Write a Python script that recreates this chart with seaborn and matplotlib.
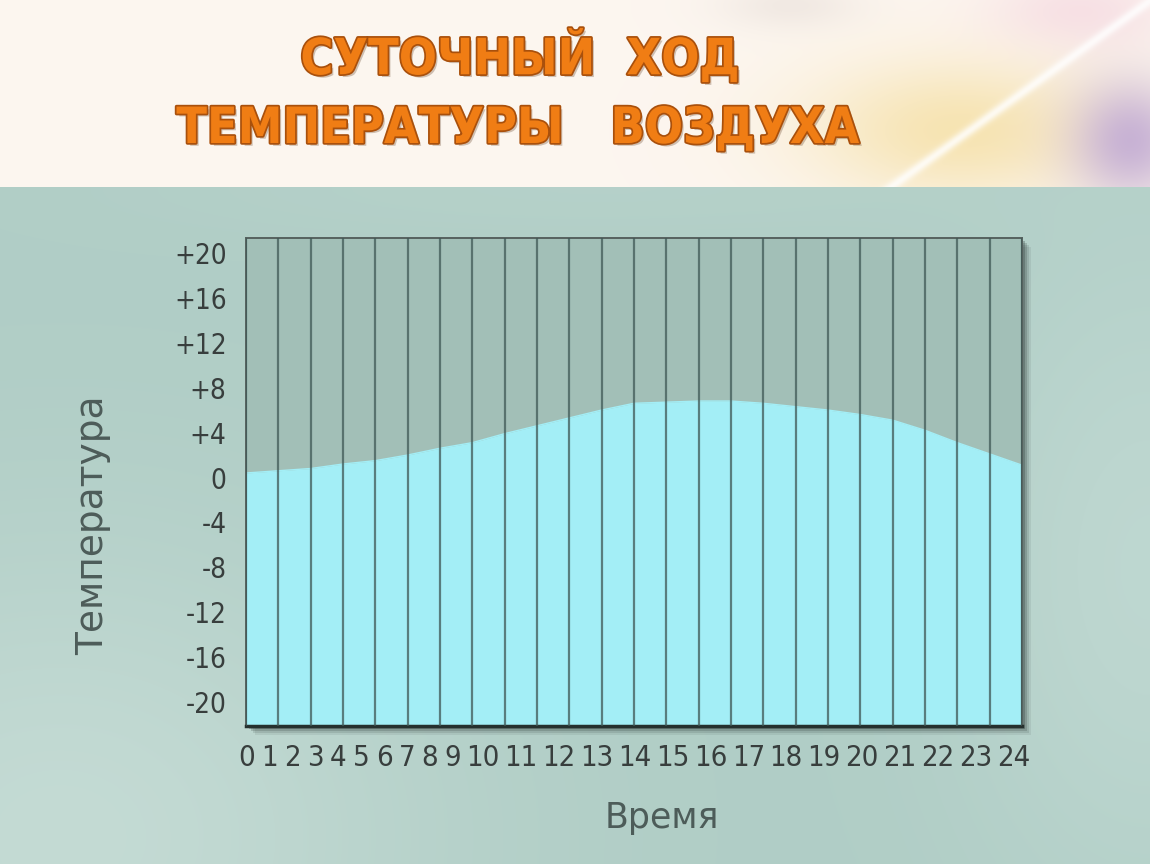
import matplotlib
matplotlib.use('Agg')
import matplotlib.pyplot as plt
import matplotlib.patheffects as pe
from matplotlib.patches import Rectangle
import numpy as np
import pandas as pd
import seaborn as sns

# daily course of air temperature
hours = list(range(0, 25))
temperature = [0.4, 0.6, 0.8, 1.2, 1.5, 2.0, 2.6, 3.1, 3.9, 4.6, 5.3, 6.0, 6.6,
               6.7, 6.8, 6.8, 6.6, 6.3, 6.0, 5.6, 5.1, 4.2, 3.1, 2.1, 1.1]
y_ticks = [-20, -16, -12, -8, -4, 0, 4, 8, 12, 16, 20]
y_tick_labels = ['-20', '-16', '-12', '-8', '-4', '0', '+4', '+8', '+12', '+16', '+20']
x_tick_labels = [str(h) for h in hours]
title_lines = ['СУТОЧНЫЙ  ХОД', 'ТЕМПЕРАТУРЫ   ВОЗДУХА']

sns.set_theme(style='white')
plt.rcParams['font.family'] = ['DejaVu Sans']
plt.rcParams['font.stretch'] = 'condensed'

W, H = 1150, 864
BANNER = 187
fig = plt.figure(figsize=(W / 100, H / 100), dpi=100)


def blend(img, xx, yy, cx, cy, sx, sy, color, strength):
    g = np.exp(-((xx - cx) / sx) ** 2 - ((yy - cy) / sy) ** 2)[..., None] * strength
    return img * (1 - g) + np.array(color) * g


# banner background (soft light streaks)
yy, xx = np.mgrid[0:BANNER, 0:W].astype(float)
top = np.ones((BANNER, W, 3)) * np.array([0.99, 0.965, 0.94])
top = blend(top, xx, yy, 960, 130, 150, 70, (0.96, 0.87, 0.62), 0.75)
top = blend(top, xx, yy, 1130, 140, 60, 60, (0.72, 0.62, 0.82), 0.75)
top = blend(top, xx, yy, 1080, 10, 90, 40, (0.95, 0.80, 0.86), 0.5)
top = blend(top, xx, yy, 790, 5, 70, 25, (0.88, 0.84, 0.82), 0.4)
d = np.abs(187 * (xx - 1150) + 260 * yy) / np.hypot(187, 260)
top = top * (1 - np.exp(-(d / 5) ** 2)[..., None] * 0.8) + np.exp(-(d / 5) ** 2)[..., None] * 0.8
top = np.clip(top, 0, 1)

ax_top = fig.add_axes([0, 1 - BANNER / H, 1, BANNER / H], zorder=-3)
ax_top.imshow(top, aspect='auto')
ax_top.axis('off')

# lower background
yy, xx = np.mgrid[0:H - BANNER, 0:W].astype(float)
low = np.ones((H - BANNER, W, 3)) * np.array([0.69, 0.805, 0.775])
low = blend(low, xx, yy, 60, 650, 380, 300, (0.80, 0.88, 0.855), 0.7)
low = blend(low, xx, yy, 1150, 380, 200, 350, (0.78, 0.87, 0.845), 0.6)
low = blend(low, xx, yy, 600, 0, 500, 60, (0.74, 0.84, 0.81), 0.4)
ax_low = fig.add_axes([0, 0, 1, 1 - BANNER / H], zorder=-3)
ax_low.imshow(np.clip(low, 0, 1), aspect='auto')
ax_low.axis('off')

# plot area in pixels
L, R, T, B = 246, 1022, 238, 726
for off, a in [(9, 0.08), (7, 0.12), (5, 0.18), (3, 0.25)]:
    fig.patches.append(Rectangle(((L + off) / W, (H - B - off) / H), (R - L) / W, (B - T) / H,
                                 transform=fig.transFigure, facecolor='#1f2a28',
                                 edgecolor='none', alpha=a, zorder=-2))

ax = fig.add_axes([L / W, (H - B) / H, (R - L) / W, (B - T) / H], zorder=0)
ax.set_facecolor('#a2bfb7')

ymin, ymax = -22.1, 21.3
df = pd.DataFrame({'hour': hours, 'temp': temperature})
ax.fill_between(df['hour'], ymin, df['temp'], color='#a3eef6', linewidth=0, zorder=1)
sns.lineplot(data=df, x='hour', y='temp', ax=ax, color='#a3eef6', linewidth=1, zorder=2)
ax.vlines(df['hour'], ymin, ymax, color='#3f5856', alpha=0.75, linewidth=1.6, zorder=3)

ax.set_xlim(0, 24)
ax.set_ylim(ymin, ymax)
ax.set_yticks(y_ticks)
ax.set_yticklabels(y_tick_labels)

# hour labels set like a justified line of text under the axis
widths = np.array([len(s) for s in x_tick_labels], dtype=float)
gap = 0.52
steps = np.concatenate([[0], np.cumsum(widths[:-1] + gap)]) + widths / 2
total = widths.sum() + gap * (len(widths) - 1)
x_pos = -0.2 + steps / total * 24.4
ax.set_xticks(x_pos)
ax.set_xticklabels(x_tick_labels)

ax.tick_params(axis='y', length=0, pad=14, labelsize=20, labelcolor='#383e3d')
ax.tick_params(axis='x', length=0, pad=13, labelsize=21, labelcolor='#383e3d')
for s in ['left', 'right', 'top']:
    ax.spines[s].set_color('#56625f')
    ax.spines[s].set_linewidth(1.4)
ax.spines['bottom'].set_color('#25302e')
ax.spines['bottom'].set_linewidth(2.5)
ax.set_xlabel('')
ax.set_ylabel('')

fig.text(93 / W, 1 - 525 / H, 'Температура', rotation=90, ha='center', va='center',
         fontsize=27, color='#4d5c59', fontstretch='normal')
fig.text(662 / W, 1 - 818 / H, 'Время', ha='center', va='center',
         fontsize=25, color='#4d5c59', fontstretch='normal')

effects = [pe.withSimplePatchShadow(offset=(2, -2), shadow_rgbFace='#7a5a40', alpha=0.35),
           pe.withStroke(linewidth=2.5, foreground='#a9500c')]
fig.text(520 / W, 1 - 57 / H, title_lines[0], ha='center', va='center', fontsize=36,
         fontweight='bold', color='#f07d14', path_effects=effects)
fig.text(518 / W, 1 - 129 / H, title_lines[1], ha='center', va='center', fontsize=36,
         fontweight='bold', color='#f07d14', path_effects=effects)

fig.savefig('out.png', dpi=100)
